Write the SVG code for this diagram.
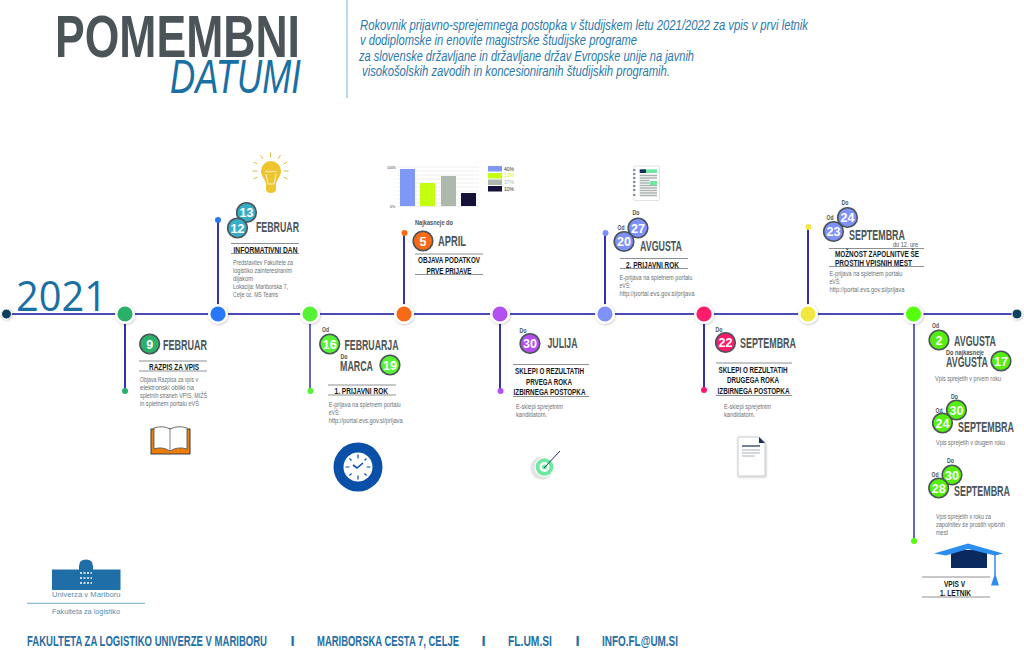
<svg xmlns="http://www.w3.org/2000/svg" width="1024" height="650" viewBox="0 0 1024 650">
<style>
text{font-family:"Liberation Sans",Arial,sans-serif}
.mo{font-weight:700;font-size:14px;fill:#4a5459}
.hd{font-weight:700;font-size:9.5px;fill:#15181a}
.bd{font-size:7.6px;fill:#6a7074}
.sm{font-weight:700;font-size:7.5px;fill:#4a5459}
.num{font-weight:700;font-size:12.5px;fill:#fff;text-anchor:middle}
.rule{stroke:#6f7477;stroke-width:.8}
.bdg{stroke:#4a5459;stroke-width:1.6}
.ln{stroke:#0f0fa0;stroke-width:1.7;fill:none}
.ln2{stroke:#4a4ab4;stroke-width:1.7;fill:none}
.nd{filter:url(#sh);stroke:#fff;stroke-width:2.4}
.ft{font-weight:700;font-size:15px;fill:#1f6ea5}
.it{font-style:italic;font-size:15.5px;fill:#2a78ad}
</style>
<defs><filter id="sh" x="-40%" y="-40%" width="180%" height="180%"><feDropShadow dx="0.6" dy="0.8" stdDeviation="0.8" flood-color="#000" flood-opacity=".25"/></filter></defs>
<rect width="1024" height="650" fill="#fff"/>

<g id="title">
<text x="55" y="57" font-size="60" font-weight="700" fill="#4a5459" textLength="245" lengthAdjust="spacingAndGlyphs">POMEMBNI</text>
<text x="170" y="93" font-size="49" font-style="italic" fill="#1a6fa3" textLength="131" lengthAdjust="spacingAndGlyphs">DATUMI</text>
<line x1="347" y1="0" x2="347" y2="98" stroke="#8fc1e3" stroke-width="1.2"/>
<text class="it" x="360" y="30" textLength="448" lengthAdjust="spacingAndGlyphs">Rokovnik prijavno-sprejemnega postopka v študijskem letu 2021/2022 za vpis v prvi letnik</text>
<text class="it" x="360" y="45" textLength="277" lengthAdjust="spacingAndGlyphs">v dodiplomske in enovite magistrske študijske programe</text>
<text class="it" x="359" y="61" textLength="335" lengthAdjust="spacingAndGlyphs">za slovenske državljane in državljane držav Evropske unije na javnih</text>
<text class="it" x="362" y="76" textLength="308" lengthAdjust="spacingAndGlyphs">visokošolskih zavodih in koncesioniranih študijskih programih.</text>
<text x="16" y="311" font-size="42" fill="#1a6fa3" style="font-family:'Open Sans',sans-serif" textLength="91" lengthAdjust="spacingAndGlyphs">2021</text>
</g>

<g id="connectors">
<line class="ln" x1="6" y1="314" x2="1017" y2="314"/>
<line class="ln" x1="125" y1="314" x2="125" y2="391"/>
<line class="ln" x1="218" y1="314" x2="218" y2="220"/>
<line class="ln2" x1="310" y1="314" x2="310" y2="391"/>
<line class="ln" x1="404" y1="314" x2="404" y2="233"/>
<line class="ln" x1="500" y1="314" x2="500" y2="391"/>
<line class="ln" x1="605" y1="314" x2="605" y2="233"/>
<line class="ln" x1="704" y1="314" x2="704" y2="390"/>
<line class="ln" x1="808" y1="314" x2="808" y2="227"/>
<line class="ln2" x1="914" y1="314" x2="914" y2="541"/>
</g>

<g id="start"><circle cx="6.500" cy="314" r="5" fill="#0f3f5c" stroke="#fff" filter="url(#sh)"/></g>
<g id="end"><circle cx="1017" cy="314" r="5" fill="#0f3f5c" stroke="#fff" filter="url(#sh)"/></g>

<g id="n1">
<circle class="nd" cx="125" cy="314" r="8.800" fill="#2bb069"/><circle cx="125" cy="391" r="3" fill="#2bb069"/>
<circle class="bdg" cx="149.700" cy="344" r="9.800" fill="#2bb069"/><text class="num" x="149.700" y="348.500">9</text>
<text class="mo" x="163" y="349.500" textLength="44" lengthAdjust="spacingAndGlyphs">FEBRUAR</text>
<line class="rule" x1="139" y1="361" x2="207" y2="361"/>
<text class="hd" x="149" y="370" textLength="50" lengthAdjust="spacingAndGlyphs">RAZPIS ZA VPIS</text>
<line class="rule" x1="139" y1="371" x2="207" y2="371"/>
<text class="bd" x="140" y="382" textLength="58" lengthAdjust="spacingAndGlyphs">Objava Razpisa za vpis v</text>
<text class="bd" x="140" y="390" textLength="54" lengthAdjust="spacingAndGlyphs">elektronski obliki na</text>
<text class="bd" x="140" y="398" textLength="67" lengthAdjust="spacingAndGlyphs">spletnih straneh VPIS, MIŽŠ</text>
<text class="bd" x="140" y="406" textLength="59" lengthAdjust="spacingAndGlyphs">in spletnem portalu eVŠ</text>
<g id="book">
<rect x="151" y="429" width="39" height="25" fill="#ef7d0a" stroke="#3a3a3a" stroke-width="1"/>
<path d="M154 428Q163 425 170 429Q178 425 187 428V449Q178 446 170 451Q162 446 154 449Z" fill="#fff" stroke="#4a4a4a" stroke-width=".8"/>
<line x1="170" y1="429" x2="170" y2="451" stroke="#666" stroke-width=".8"/>
</g>
</g>

<g id="n2">
<circle class="nd" cx="218" cy="314" r="8.800" fill="#2a78fa"/><circle cx="218" cy="220" r="3" fill="#2a78fa"/>
<circle class="bdg" cx="246.500" cy="212.500" r="9.800" fill="#38aec6"/><text class="num" x="246.500" y="217">13</text>
<circle class="bdg" cx="237.500" cy="228" r="9.800" fill="#38aec6"/><text class="num" x="237.500" y="232.500">12</text>
<text class="mo" x="256" y="232" textLength="43" lengthAdjust="spacingAndGlyphs">FEBRUAR</text>
<line class="rule" x1="231" y1="243.500" x2="299" y2="243.500"/>
<text class="hd" x="233.500" y="252.500" textLength="64" lengthAdjust="spacingAndGlyphs">INFORMATIVNI DAN</text>
<line class="rule" x1="231" y1="253.500" x2="299" y2="253.500"/>
<text class="bd" x="233" y="265" textLength="60" lengthAdjust="spacingAndGlyphs">Predstavitev Fakultete za</text>
<text class="bd" x="233" y="273" textLength="59" lengthAdjust="spacingAndGlyphs">logistiko zainteresiranim</text>
<text class="bd" x="233" y="281" textLength="20" lengthAdjust="spacingAndGlyphs">dijakom</text>
<text class="bd" x="233" y="289" textLength="55" lengthAdjust="spacingAndGlyphs">Lokacija: Mariborska 7,</text>
<text class="bd" x="233" y="297" textLength="45" lengthAdjust="spacingAndGlyphs">Celje oz. MS Teams</text>
<g id="bulb">
<path d="M261 171a10 10 0 0 1 20 0c0 5-4 8-5 13v6q-1 3-5 3t-5-3v-6c-1-5-5-8-5-13Z" fill="#efc52f"/>
<path d="M266 174l2 10h6l2-10M265.500 172q2-2 3 0q2-2 3 0q2-2 3 0q1-2 2 0" fill="none" stroke="#fff" stroke-width=".8"/>
<path d="M270.500 152.500v5M260.500 155l2.500 4M280.500 155l-2.500 4M253.500 162l4 2M287.500 162l-4 2M252.500 171h5M288.500 171h-5M253.500 179l4-2M287.500 179l-4-2" stroke="#d9bf4e" stroke-width="1" fill="none"/>
</g>
</g>

<g id="n3">
<circle class="nd" cx="310" cy="314" r="8.800" fill="#57f236"/><circle cx="310.500" cy="391" r="3" fill="#57f236"/>
<text class="sm" x="322" y="332" textLength="7" lengthAdjust="spacingAndGlyphs">Od</text>
<circle class="bdg" cx="329.700" cy="344" r="9.800" fill="#57f236"/><text class="num" x="329.700" y="348.500">16</text>
<text class="mo" x="344.500" y="349.500" textLength="54" lengthAdjust="spacingAndGlyphs">FEBRUARJA</text>
<text class="sm" x="340.500" y="359" textLength="7" lengthAdjust="spacingAndGlyphs">Do</text>
<text class="mo" x="340" y="370.500" textLength="33" lengthAdjust="spacingAndGlyphs">MARCA</text>
<circle class="bdg" cx="390" cy="365" r="9.800" fill="#57f236"/><text class="num" x="390" y="369.500">19</text>
<line class="rule" x1="328" y1="385" x2="396" y2="385"/>
<text class="hd" x="334.500" y="394" textLength="53.500" lengthAdjust="spacingAndGlyphs">1. PRIJAVNI ROK</text>
<line class="rule" x1="328" y1="395" x2="396" y2="395"/>
<text class="bd" x="328.700" y="407" textLength="72" lengthAdjust="spacingAndGlyphs">E-prijava na spletnem portalu</text>
<text class="bd" x="328.700" y="415" textLength="11" lengthAdjust="spacingAndGlyphs">eVŠ:</text>
<text class="bd" x="328.700" y="423" textLength="74" lengthAdjust="spacingAndGlyphs">http://portal.evs.gov.si/prijava</text>
<g id="clock">
<circle cx="358" cy="467" r="24.500" fill="#0a50a8"/><circle cx="358" cy="467" r="14.500" fill="#fff"/>
<path d="M358 454.500v4M358 475.500v4M345.500 467h4M366.500 467h4M349.500 458.500l2 2M366.500 458.500l-2 2M349.500 475.500l2-2M366.500 475.500l-2-2" stroke="#0a50a8" stroke-width="1.200" fill="none"/>
<path d="M353 465l4 3 6-5" stroke="#0a50a8" stroke-width="1.600" fill="none"/>
</g>
</g>

<g id="n4">
<circle class="nd" cx="404" cy="314" r="8.800" fill="#fa6a14"/><circle cx="404.500" cy="233" r="3" fill="#fa6a14"/>
<text class="sm" x="415" y="225" textLength="38" lengthAdjust="spacingAndGlyphs">Najkasneje do</text>
<circle class="bdg" cx="423" cy="241" r="9.800" fill="#fa6a14"/><text class="num" x="423" y="245.500">5</text>
<text class="mo" x="438" y="245.500" textLength="28" lengthAdjust="spacingAndGlyphs">APRIL</text>
<line class="rule" x1="415" y1="254" x2="483" y2="254"/>
<text class="hd" x="418" y="263" textLength="62" lengthAdjust="spacingAndGlyphs">OBJAVA PODATKOV</text>
<text class="hd" x="426.500" y="273.500" textLength="45" lengthAdjust="spacingAndGlyphs">PRVE PRIJAVE</text>
<line class="rule" x1="415" y1="274.500" x2="483" y2="274.500"/>
<g id="chart">
<path d="M397 167h82M397 171h82M397 175h82M397 179h82M397 183h82M397 187h82M397 191h82M397 195h82M397 199h82M397 203h82M397 206.500h82" stroke="#e6e6e6" stroke-width=".7" fill="none"/>
<rect x="400" y="169" width="15" height="37" fill="#7f97f5"/><rect x="420" y="183" width="15" height="23" fill="#c5ff10"/><rect x="441" y="176" width="15" height="30" fill="#adb9ad"/><rect x="461" y="193" width="15" height="13" fill="#15123a"/>
<rect x="488" y="166" width="14" height="5.500" fill="#7f97f5"/><rect x="488" y="173" width="14" height="5.500" fill="#c5ff10"/><rect x="488" y="179.500" width="14" height="5.500" fill="#adb9ad"/><rect x="488" y="186" width="14" height="5.500" fill="#15123a"/>
<g font-size="5"><text x="504" y="170.500" fill="#333">40%</text><text x="504" y="177" fill="#c5ff10">13%</text><text x="504" y="184" fill="#adb9ad">37%</text><text x="504" y="190.500" fill="#333">10%</text><text x="387" y="169" font-size="3.500" fill="#333">100%</text><text x="390" y="207.500" font-size="3.500" fill="#333">0%</text></g>
</g>
</g>

<g id="n5">
<circle class="nd" cx="500" cy="314" r="8.800" fill="#b44ff0"/><circle cx="500.500" cy="391" r="3" fill="#b44ff0"/>
<text class="sm" x="519.500" y="333" textLength="7" lengthAdjust="spacingAndGlyphs">Do</text>
<circle class="bdg" cx="530" cy="343.500" r="9.800" fill="#b44ff0"/><text class="num" x="530" y="348">30</text>
<text class="mo" x="547.500" y="348" textLength="30" lengthAdjust="spacingAndGlyphs">JULIJA</text>
<line class="rule" x1="513" y1="364.500" x2="589" y2="364.500"/>
<text class="hd" x="515" y="374" textLength="69" lengthAdjust="spacingAndGlyphs">SKLEPI O REZULTATIH</text>
<text class="hd" x="526" y="384.500" textLength="46" lengthAdjust="spacingAndGlyphs">PRVEGA ROKA</text>
<text class="hd" x="513.500" y="395" textLength="72" lengthAdjust="spacingAndGlyphs">IZBIRNEGA POSTOPKA</text>
<line class="rule" x1="513" y1="396.500" x2="589" y2="396.500"/>
<text class="bd" x="516" y="409" textLength="47" lengthAdjust="spacingAndGlyphs">E-sklepi sprejetnim</text>
<text class="bd" x="516" y="417" textLength="31" lengthAdjust="spacingAndGlyphs">kandidatom.</text>
<g id="target">
<circle cx="542" cy="468" r="11.500" fill="#e4e4e4"/><circle cx="544.500" cy="467" r="10" fill="#fff"/><circle cx="544.500" cy="467" r="8.800" fill="#6fe9a0"/><circle cx="544.500" cy="467" r="5" fill="#fff"/><circle cx="544.500" cy="467" r="2.500" fill="#6fe9a0"/>
<line x1="544" y1="468" x2="560" y2="451" stroke="#15305a" stroke-width="1"/>
</g>
</g>

<g id="n6">
<circle class="nd" cx="605" cy="314" r="8.800" fill="#7f92fb"/><circle cx="605.500" cy="233" r="3" fill="#7f92fb"/>
<text class="sm" x="632.500" y="215" textLength="7" lengthAdjust="spacingAndGlyphs">Do</text>
<text class="sm" x="617.500" y="230" textLength="7" lengthAdjust="spacingAndGlyphs">Od</text>
<circle class="bdg" cx="638" cy="228" r="9.800" fill="#7f92fb"/><text class="num" x="638" y="232.500">27</text>
<circle class="bdg" cx="624" cy="241.500" r="9.800" fill="#7f92fb"/><text class="num" x="624" y="246">20</text>
<text class="mo" x="640" y="251" textLength="42" lengthAdjust="spacingAndGlyphs">AVGUSTA</text>
<line class="rule" x1="620" y1="258.500" x2="688" y2="258.500"/>
<text class="hd" x="626" y="267.500" textLength="53" lengthAdjust="spacingAndGlyphs">2. PRIJAVNI ROK</text>
<line class="rule" x1="620" y1="268.500" x2="688" y2="268.500"/>
<text class="bd" x="619.500" y="280" textLength="73" lengthAdjust="spacingAndGlyphs">E-prijava na spletnem portalu</text>
<text class="bd" x="619.500" y="288" textLength="11" lengthAdjust="spacingAndGlyphs">eVŠ:</text>
<text class="bd" x="619.500" y="296" textLength="75" lengthAdjust="spacingAndGlyphs">http://portal.evs.gov.si/prijava</text>
<g id="sheet">
<rect x="634" y="166" width="25.500" height="34.500" rx="1" fill="#fff" stroke="#d8dde0" stroke-width=".8"/>
<rect x="639.700" y="169.300" width="6.300" height="3.700" fill="#15305a"/><rect x="646" y="169.300" width="11" height="3.700" fill="#6fe9a0"/>
<path d="M639.700 175.500h17.300M639.700 178h17.300M639.700 180.500h10M639.700 183h10M639.700 185.500h17.300M639.700 188h17.300M639.700 190.500h17.300M639.700 193h17.300M639.700 195.500h17.300" stroke="#a9b3ae" stroke-width="1.500" fill="none"/>
<rect x="650" y="181" width="7" height="4" fill="#6fe9a0"/>
<path d="M633 170h2.500M633 174h2.500M633 178h2.500M633 182h2.500M633 186h2.500M633 190h2.500M633 195h2.500" stroke="#15305a" stroke-width="1" fill="none"/>
</g>
</g>

<g id="n7">
<circle class="nd" cx="704" cy="314" r="8.800" fill="#ff1a6b"/><circle cx="704" cy="390" r="3" fill="#ff1a6b"/>
<text class="sm" x="715.500" y="332" textLength="7" lengthAdjust="spacingAndGlyphs">Do</text>
<circle class="bdg" cx="725.500" cy="342.500" r="9.800" fill="#ff1a6b"/><text class="num" x="725.500" y="347">22</text>
<text class="mo" x="740" y="348" textLength="56" lengthAdjust="spacingAndGlyphs">SEPTEMBRA</text>
<line class="rule" x1="716" y1="363" x2="792" y2="363"/>
<text class="hd" x="718.500" y="373" textLength="69" lengthAdjust="spacingAndGlyphs">SKLEPI O REZULTATIH</text>
<text class="hd" x="727" y="383" textLength="52" lengthAdjust="spacingAndGlyphs">DRUGEGA ROKA</text>
<text class="hd" x="717.500" y="394" textLength="72" lengthAdjust="spacingAndGlyphs">IZBIRNEGA POSTOPKA</text>
<line class="rule" x1="716" y1="395.500" x2="792" y2="395.500"/>
<text class="bd" x="724" y="409" textLength="47" lengthAdjust="spacingAndGlyphs">E-sklepi sprejetnim</text>
<text class="bd" x="724" y="417" textLength="31" lengthAdjust="spacingAndGlyphs">kandidatom.</text>
<g id="doc">
<path d="M738 437H759L765 443V476H738Z" fill="#fff" stroke="#c8ced0" stroke-width="1" filter="url(#sh)"/>
<path d="M759 437L765 443H759Z" fill="#15305a"/>
<path d="M742 446h18" stroke="#15305a" stroke-width="1.200"/>
<path d="M742 450h18M742 453h18M742 456h13" stroke="#aab2b6" stroke-width="1.200"/>
</g>
</g>

<g id="n8">
<circle class="nd" cx="808" cy="314" r="8.800" fill="#f2e640"/><circle cx="808.500" cy="227" r="3" fill="#f2e640"/>
<text class="sm" x="841.500" y="205" textLength="7" lengthAdjust="spacingAndGlyphs">Do</text>
<text class="sm" x="826.500" y="220" textLength="7" lengthAdjust="spacingAndGlyphs">Od</text>
<circle class="bdg" cx="847.500" cy="217.500" r="9.800" fill="#7f92fb"/><text class="num" x="847.500" y="222">24</text>
<circle class="bdg" cx="833.500" cy="231.500" r="9.800" fill="#7f92fb"/><text class="num" x="833.500" y="236">23</text>
<text class="mo" x="849" y="240" textLength="56" lengthAdjust="spacingAndGlyphs">SEPTEMBRA</text>
<text class="bd" x="893" y="246.500" style="fill:#4a5459" textLength="25" lengthAdjust="spacingAndGlyphs">do 12. ure</text>
<line class="rule" x1="829" y1="248.500" x2="924" y2="248.500"/>
<text class="hd" x="835" y="257" textLength="84" lengthAdjust="spacingAndGlyphs">MOŽNOST ZAPOLNITVE ŠE</text>
<text class="hd" x="835" y="265.500" textLength="77" lengthAdjust="spacingAndGlyphs">PROSTIH VPISNIH MEST</text>
<line class="rule" x1="829" y1="266.500" x2="924" y2="266.500"/>
<text class="bd" x="829.500" y="276" textLength="73" lengthAdjust="spacingAndGlyphs">E-prijava na spletnem portalu</text>
<text class="bd" x="829.500" y="284" textLength="11" lengthAdjust="spacingAndGlyphs">eVŠ:</text>
<text class="bd" x="829.500" y="292" textLength="75" lengthAdjust="spacingAndGlyphs">http://portal.evs.gov.si/prijava</text>
</g>

<g id="n9">
<circle class="nd" cx="913.500" cy="314" r="8.800" fill="#55ff10"/><circle cx="914" cy="541" r="3" fill="#55ff10"/>
<text class="sm" x="932" y="328" textLength="7" lengthAdjust="spacingAndGlyphs">Od</text>
<circle class="bdg" cx="939" cy="340" r="9.800" fill="#55ee10"/><text class="num" x="939" y="344.500">2</text>
<text class="mo" transform="matrix(.7 0 0 1 954 345.500)" textLength="60" lengthAdjust="spacingAndGlyphs">AVGUSTA</text>
<text class="sm" x="946" y="355" textLength="38" lengthAdjust="spacingAndGlyphs">Do najkasneje</text>
<text class="mo" transform="matrix(.7 0 0 1 946 366.500)" textLength="60" lengthAdjust="spacingAndGlyphs">AVGUSTA</text>
<circle class="bdg" cx="1001" cy="361" r="9.800" fill="#55ee10"/><text class="num" x="1001" y="365.500">17</text>
<text class="bd" transform="matrix(.8 0 0 1 935 381)" textLength="82.500" lengthAdjust="spacingAndGlyphs">Vpis sprejetih v prvem roku</text>
<text class="sm" x="951" y="399" textLength="7" lengthAdjust="spacingAndGlyphs">Do</text>
<text class="sm" x="935.500" y="413" textLength="7" lengthAdjust="spacingAndGlyphs">Od</text>
<circle class="bdg" cx="956.500" cy="410" r="9.800" fill="#55ee10"/><text class="num" x="956.500" y="414.500">30</text>
<circle class="bdg" cx="942.500" cy="423" r="9.800" fill="#55ee10"/><text class="num" x="942.500" y="427.500">24</text>
<text class="mo" transform="matrix(.7 0 0 1 958 432)" textLength="80" lengthAdjust="spacingAndGlyphs">SEPTEMBRA</text>
<text class="bd" transform="matrix(.8 0 0 1 936 445)" textLength="86.250" lengthAdjust="spacingAndGlyphs">Vpis sprejetih v drugem roku</text>
<text class="sm" x="947" y="462.500" textLength="7" lengthAdjust="spacingAndGlyphs">Do</text>
<text class="sm" x="931.500" y="477" textLength="7" lengthAdjust="spacingAndGlyphs">Od</text>
<circle class="bdg" cx="952" cy="475" r="9.800" fill="#55ee10"/><text class="num" x="952" y="479.500">30</text>
<circle class="bdg" cx="938.700" cy="488" r="9.800" fill="#55ee10"/><text class="num" x="938.700" y="492.500">28</text>
<text class="mo" transform="matrix(.7 0 0 1 954 496)" textLength="80" lengthAdjust="spacingAndGlyphs">SEPTEMBRA</text>
<text class="bd" x="936" y="519" textLength="55" lengthAdjust="spacingAndGlyphs">Vpis sprejetih v roku za</text>
<text class="bd" transform="matrix(.8 0 0 1 936 527)" textLength="86.250" lengthAdjust="spacingAndGlyphs">zapolnitev še prostih vpisnih</text>
<text class="bd" x="936" y="535" textLength="12" lengthAdjust="spacingAndGlyphs">mest</text>
<g id="cap">
<rect x="951" y="550" width="36" height="18" fill="#0a2a5e"/>
<path d="M934 553.500L968 543.500L1003 553.500L995 555.500L968 549L946 555.500Z" fill="#2d8ef0"/>
<path d="M995 555v20" stroke="#2d8ef0" stroke-width="1.500"/><path d="M991 585.500L995 573L999 585.500Z" fill="#2d8ef0"/>
</g>
<line class="rule" x1="922" y1="577" x2="990" y2="577"/>
<text class="hd" x="944" y="586.500" textLength="21" lengthAdjust="spacingAndGlyphs">VPIS V</text>
<text class="hd" x="940" y="596" textLength="31" lengthAdjust="spacingAndGlyphs">1. LETNIK</text>
<line class="rule" x1="922" y1="597" x2="990" y2="597"/>
</g>

<g id="logo">
<path d="M52 569.500h27v-3q0-7 7-7t7 7v3h27.500v20.500h-68.500Z" fill="#1f6ea8"/>
<path d="M80 573h12M80 578h12M80 583h12" stroke="#fff" stroke-width="1.500" stroke-dasharray="2 1.500" fill="none"/>
<text x="52" y="597" font-size="8" fill="#5a8db0" textLength="68.500" lengthAdjust="spacingAndGlyphs">Univerza v Mariboru</text>
<line x1="27" y1="603.300" x2="145" y2="603.300" stroke="#4f8fbd" stroke-width=".8"/>
<text x="52" y="614" font-size="8" fill="#5a8db0" textLength="68" lengthAdjust="spacingAndGlyphs">Fakulteta za logistiko</text>
</g>

<g id="footer">
<text class="ft" transform="matrix(.6 0 0 1 27 646)" textLength="400" lengthAdjust="spacingAndGlyphs">FAKULTETA ZA LOGISTIKO UNIVERZE V MARIBORU</text>
<text class="ft" x="290.500" y="646">I</text>
<text class="ft" transform="matrix(.6 0 0 1 317 646)" textLength="236.700" lengthAdjust="spacingAndGlyphs">MARIBORSKA CESTA 7, CELJE</text>
<text class="ft" x="481.500" y="646">I</text>
<text class="ft" transform="matrix(.6 0 0 1 508 646)" textLength="73.300" lengthAdjust="spacingAndGlyphs">FL.UM.SI</text>
<text class="ft" x="575.500" y="646">I</text>
<text class="ft" transform="matrix(.6 0 0 1 602 646)" textLength="126.700" lengthAdjust="spacingAndGlyphs">INFO.FL@UM.SI</text>
</g>
</svg>
